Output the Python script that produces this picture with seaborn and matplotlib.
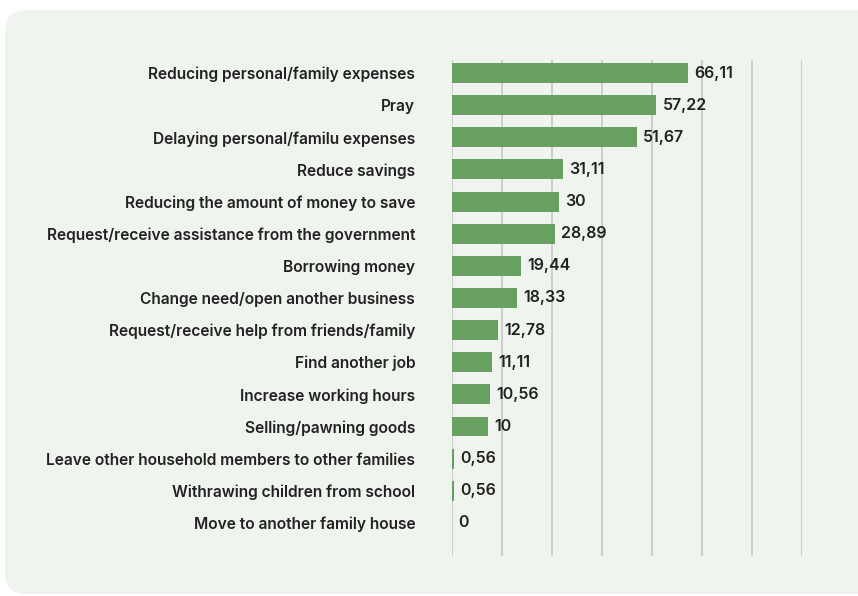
import matplotlib
matplotlib.use("Agg")
import matplotlib.pyplot as plt
from matplotlib.patches import FancyBboxPatch
from matplotlib.ticker import MultipleLocator
import seaborn as sns
import pandas as pd

strategies = [
    "Reducing personal/family expenses",
    "Pray",
    "Delaying personal/familu expenses",
    "Reduce savings",
    "Reducing the amount of money to save",
    "Request/receive assistance from the government",
    "Borrowing money",
    "Change need/open another business",
    "Request/receive help from friends/family",
    "Find another job",
    "Increase working hours",
    "Selling/pawning goods",
    "Leave other household members to other families",
    "Withrawing children from school",
    "Move to another family house",
]
percentages = [66.11, 57.22, 51.67, 31.11, 30, 28.89, 19.44, 18.33, 12.78,
               11.11, 10.56, 10, 0.56, 0.56, 0]

df = pd.DataFrame({"strategy": strategies, "pct": percentages})

sns.set_theme(style="white")
plt.rcParams["font.family"] = ["Inter", "DejaVu Sans"]

PANEL = "#eff4ee"
BAR = "#68a062"
TEXT = "#222222"
GRID = "#cccccc"

fig = plt.figure(figsize=(8.58, 5.96), dpi=100)
fig.patch.set_facecolor("white")

# rounded background card, kept behind the axes
card = FancyBboxPatch((5 / 858, 2 / 596), 900 / 858, 584 / 596,
                      boxstyle="round,pad=0,rounding_size=0.025",
                      transform=fig.transFigure, facecolor=PANEL,
                      edgecolor="none", zorder=-10, mutation_aspect=858 / 596)
fig.patches.append(card)

ax = fig.add_axes([452 / 858, 1 - 556 / 596, 350 / 858, 496 / 596])
ax.set_zorder(1)
ax.set_facecolor("none")

sns.barplot(data=df, x="pct", y="strategy", orient="h", color=BAR,
            saturation=1, width=0.62, linewidth=0, ax=ax, zorder=2)

xmax = 98
ax.set_xlim(0, xmax)
ax.set_ylim(len(strategies) - 1 + 1.03, -0.405)
ax.xaxis.set_major_locator(MultipleLocator(xmax / 7))
ax.grid(axis="x", color=GRID, linewidth=1.4, zorder=0)
ax.grid(axis="y", visible=False)
ax.set_axisbelow(True)
for s in ax.spines.values():
    s.set_visible(False)
ax.set_xticklabels([])
ax.tick_params(axis="x", length=0)
ax.tick_params(axis="y", length=0, pad=26.5, labelsize=11.2, labelcolor=TEXT)
for lbl in ax.get_yticklabels():
    lbl.set_fontweight("semibold")
ax.set_xlabel("")
ax.set_ylabel("")

labels = [f"{v:g}".replace(".", ",") for v in percentages]
ax.bar_label(ax.containers[0], labels=labels, padding=4.5, fontsize=11.5,
             color=TEXT, fontweight="semibold")

fig.savefig("out.png", dpi=100, facecolor=fig.get_facecolor())
